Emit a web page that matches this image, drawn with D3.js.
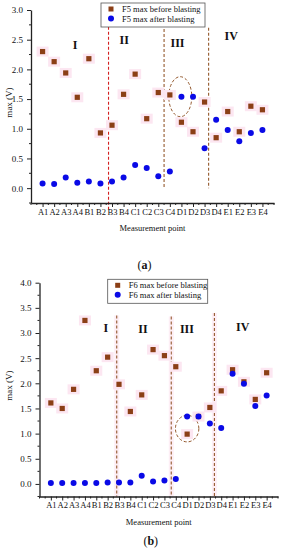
<!DOCTYPE html>
<html lang="en">
<head>
  <meta charset="UTF-8">
  <title>Measurement point max</title>
  <style>
    body { margin: 0; background: #fff; }
    svg text { font-family: "Times New Roman", "Liberation Serif", serif; fill: #111; }
  </style>
</head>
<body>
  <svg id="chart" width="284" height="550"></svg>
  <script src="https://cdn.jsdelivr.net/npm/d3@7"></script>
  <script>

  // measurement points
  var points = ["A1","A2","A3","A4","B1","B2","B3","B4","C1","C2","C3","C4",
                "D1","D2","D3","D4","E1","E2","E3","E4"];

  // F5 (panel a)
  var f5Before = [2.30,2.13,1.94,1.53,2.18,0.93,1.06,1.58,1.92,1.17,1.61,1.57,
                  1.11,0.95,1.45,0.85,1.29,0.95,1.38,1.32];
  var f5After  = [0.08,0.07,0.18,0.09,0.11,0.08,0.11,0.18,0.39,0.34,0.20,0.28,
                  1.54,1.54,0.67,1.15,0.98,0.79,0.93,0.98];

  // F6 (panel b)
  var f6Before = [1.61,1.50,1.88,3.25,2.25,2.52,1.98,1.44,1.77,2.67,2.55,2.33,
                  0.99,1.34,1.52,1.85,2.27,2.03,1.68,2.21];
  var f6After  = [0.02,0.02,0.02,0.02,0.02,0.03,0.03,0.03,0.16,0.05,0.07,0.10,
                  1.34,1.34,1.20,1.11,2.19,1.99,1.55,1.76];

  var zoneNames = ["I","II","III","IV"];
  var yTicksA = [0.0,0.5,1.0,1.5,2.0,2.5,3.0];
  var yTicksB = [0.0,0.5,1.0,1.5,2.0,2.5,3.0,3.5,4.0];

  var svg = d3.select("#chart");
  var brown = "#8b3f16", blue = "#0a0ae6";

  function drawPanel(cfg) {
    var g = svg.append("g");
    var x = d3.scaleLinear().domain([-1, 20]).range([cfg.left, cfg.right]);
    var y = d3.scaleLinear().domain([-0.25, cfg.ymax]).range([cfg.bottom, cfg.top]);

    // divider lines
    cfg.dividers.forEach(function (d, i) {
      if (cfg.band) {
        g.append("rect").attr("x", x(d) - 2.5).attr("y", y(cfg.divTop[i]))
          .attr("width", 5).attr("height", y(cfg.divBot[i]) - y(cfg.divTop[i]))
          .attr("fill", "#fdeef5");
      }
      g.append("line").attr("x1", x(d)).attr("x2", x(d))
        .attr("y1", y(cfg.divTop[i])).attr("y2", y(cfg.divBot[i]))
        .attr("stroke", i === 0 ? cfg.firstColor : "#94592e")
        .attr("stroke-width", 1.1).attr("stroke-dasharray", "3,2");
    });

    // zone labels
    g.selectAll(".zone").data(zoneNames).enter().append("text")
      .attr("x", function (d, i) { return x(cfg.zonePos[i][0]); })
      .attr("y", function (d, i) { return y(cfg.zonePos[i][1]); })
      .attr("text-anchor", "middle").attr("font-size", 12).attr("font-weight", "bold")
      .text(function (d) { return d; });

    // ellipse annotation
    g.append("ellipse").attr("cx", x(cfg.ell[0])).attr("cy", y(cfg.ell[1]))
      .attr("rx", cfg.ell[2]).attr("ry", cfg.ell[3])
      .attr("fill", "none").attr("stroke", "#94592e").attr("stroke-width", 1)
      .attr("stroke-dasharray", "3,2");

    // y axis
    var yAxis = g.append("g").attr("transform", "translate(" + cfg.left + ",0)")
      .call(d3.axisLeft(y).tickValues(cfg.yTicks).tickFormat(d3.format(".1f"))
        .tickSize(4).tickSizeOuter(0));
    var yMinor = d3.range(-0.25, cfg.ymax, 0.5);
    g.append("g").selectAll("line").data(yMinor).enter().append("line")
      .attr("x1", cfg.left - 2).attr("x2", cfg.left)
      .attr("y1", function (d) { return y(d); }).attr("y2", function (d) { return y(d); })
      .attr("stroke", "#222");

    // x axis
    var xAxis = g.append("g").attr("transform", "translate(0," + cfg.bottom + ")")
      .call(d3.axisBottom(x).tickValues(d3.range(0, 20))
        .tickFormat(function (i) { return points[i]; }).tickSize(4).tickSizeOuter(0));
    g.append("g").selectAll("line").data(d3.range(-1, 20.5, 0.5).filter(function (d) { return d % 1 !== 0 || d < 0 || d > 19; }))
      .enter().append("line")
      .attr("x1", function (d) { return x(d); }).attr("x2", function (d) { return x(d); })
      .attr("y1", cfg.bottom).attr("y2", cfg.bottom + 2).attr("stroke", "#222");

    [yAxis, xAxis].forEach(function (a) {
      a.select(".domain").attr("stroke", "#222").attr("stroke-width", 1.3);
      a.selectAll(".tick line").attr("stroke", "#222");
      a.selectAll("text").attr("font-family", "'Times New Roman','Liberation Serif',serif")
        .attr("fill", "#111");
    });
    yAxis.selectAll("text").attr("font-size", 9).attr("dx", "-0.1em");
    xAxis.selectAll("text").attr("font-size", 8.5).attr("dy", "0.55em");

    // halos behind squares
    g.append("g").selectAll("rect").data(cfg.before).enter().append("rect")
      .attr("x", function (d, i) { return x(i) - 6; })
      .attr("y", function (d) { return y(d) - 5; })
      .attr("width", 12).attr("height", 10).attr("fill", "#fce6f1");

    // before (squares)
    g.append("g").selectAll("rect").data(cfg.before).enter().append("rect")
      .attr("x", function (d, i) { return x(i) - 2.6; })
      .attr("y", function (d) { return y(d) - 2.6; })
      .attr("width", 5.2).attr("height", 5.2).attr("fill", brown);

    // after (circles)
    g.append("g").selectAll("circle").data(cfg.after).enter().append("circle")
      .attr("cx", function (d, i) { return x(i); })
      .attr("cy", function (d) { return y(d); })
      .attr("r", 3).attr("fill", blue);

    // legend
    var L = cfg.legend;
    g.append("rect").attr("x", L.x).attr("y", L.y).attr("width", L.w).attr("height", L.h)
      .attr("fill", "#fff").attr("stroke", "#555").attr("stroke-width", 0.8);
    g.append("rect").attr("x", L.x + 7.5).attr("y", L.y + 3.5).attr("width", 5).attr("height", 5)
      .attr("fill", brown);
    g.append("circle").attr("cx", L.x + 10).attr("cy", L.y + 15.5).attr("r", 3).attr("fill", blue);
    g.append("text").attr("x", L.x + 21).attr("y", L.y + 9).attr("font-size", 8.5)
      .text(cfg.name + " max before blasting");
    g.append("text").attr("x", L.x + 21).attr("y", L.y + 19).attr("font-size", 8.5)
      .text(cfg.name + " max after blasting");

    // axis titles
    var midY = (cfg.top + cfg.bottom) / 2;
    g.append("text").attr("transform", "translate(12," + (midY - 4) + ") rotate(-90)")
      .attr("text-anchor", "middle").attr("font-size", 9).text("max (V)");
    g.append("text").attr("x", (cfg.left + cfg.right) / 2).attr("y", cfg.bottom + 28)
      .attr("text-anchor", "middle").attr("font-size", 8.5).text("Measurement point");

    var cap = g.append("text").attr("x", (cfg.left + cfg.right) / 2 - 8).attr("y", cfg.capY)
      .attr("text-anchor", "middle").attr("font-size", 12);
    cap.append("tspan").text("(");
    cap.append("tspan").attr("font-weight", "bold").text(cfg.tag);
    cap.append("tspan").text(")");
  }

  drawPanel({
    name: "F5", tag: "a", before: f5Before, after: f5After,
    left: 31, right: 274, top: 10, bottom: 203, ymax: 3.0, yTicks: yTicksA,
    dividers: [5.7, 10.5, 14.35], divTop: [2.72, 2.68, 2.7], divBot: [-0.36, 0.0, 0.0],
    firstColor: "#d42020", band: false,
    zonePos: [[2.82, 2.35], [7.05, 2.43], [11.66, 2.38], [16.3, 2.5]],
    ell: [11.9, 1.54, 11.5, 20],
    legend: { x: 101, y: 3, w: 104, h: 24 }, capY: 269
  });

  drawPanel({
    name: "F6", tag: "b", before: f6Before, after: f6After,
    left: 39.5, right: 278, top: 282.7, bottom: 496.5, ymax: 4.0, yTicks: yTicksB,
    dividers: [5.8, 10.6, 14.4], divTop: [3.35, 3.33, 3.4], divBot: [-0.25, -0.25, -0.25],
    firstColor: "#94592e", band: true,
    zonePos: [[4.83, 3.02], [8.11, 3.0], [11.98, 3.0], [16.9, 3.03]],
    ell: [12.0, 1.1, 11.7, 13.3],
    legend: { x: 107.7, y: 279.3, w: 100, h: 24 }, capY: 545
  });

  </script>
</body>
</html>
